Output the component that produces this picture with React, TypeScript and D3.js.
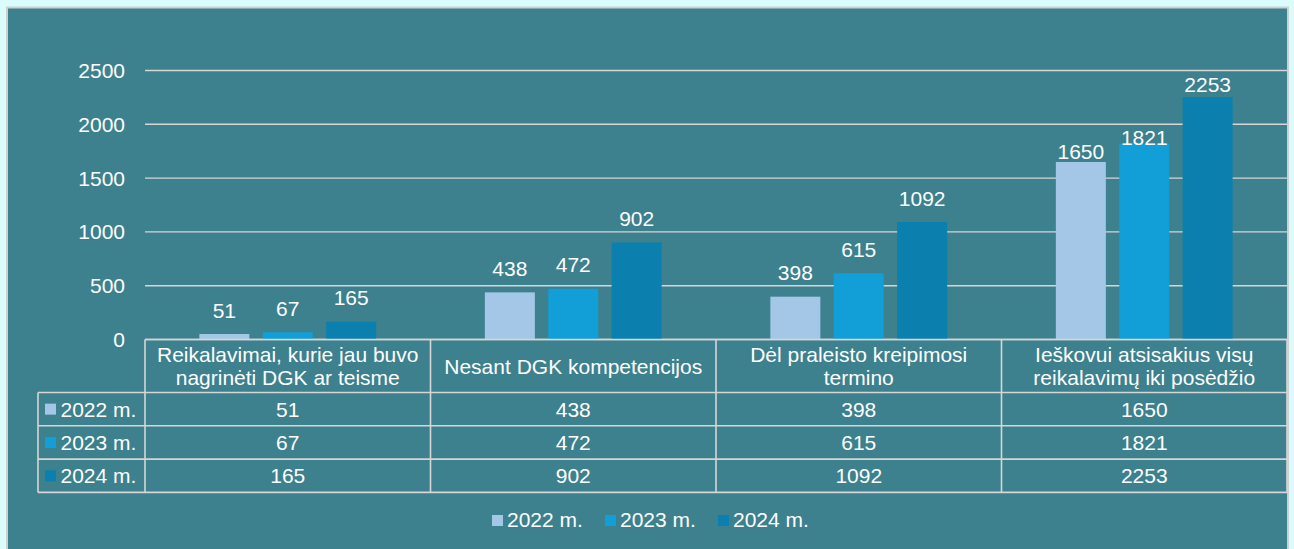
import React from "react";
import * as d3 from "d3";

const categories = [
  "Reikalavimai, kurie jau buvo\nnagrinėti DGK ar teisme",
  "Nesant DGK kompetencijos",
  "Dėl praleisto kreipimosi\ntermino",
  "Ieškovui atsisakius visų\nreikalavimų iki posėdžio",
];
const seriesNames = ["2022 m.", "2023 m.", "2024 m."];
const values2022 = [51, 438, 398, 1650];
const values2023 = [67, 472, 615, 1821];
const values2024 = [165, 902, 1092, 2253];
const yTicks = [0, 500, 1000, 1500, 2000, 2500];

const seriesValues = [values2022, values2023, values2024];
const colors = ["#a4c7e7", "#129fd7", "#0b80ae"];

const W = 1294;
const H = 549;
const BG = "#3c818d";
const LINE = "#d6d6d6";
const FONT = "'Liberation Sans', Arial, sans-serif";
const FS = 21;
const BASE = 7.5;

// label gap overrides (style) for last group, as in reference
const labelGap = (ci: number, si: number) => {
  if (ci === 3) return [3.3, -1.7, 5.3][si];
  return 16.5;
};

export default function App() {
  const plotL = 145;
  const plotR = 1287;
  const y = d3.scaleLinear().domain([0, 2500]).range([339.5, 70.5]);
  const x = d3.scaleBand<number>().domain(d3.range(categories.length)).range([plotL, plotR]).padding(0);
  const bw = 50;
  const step = 63.4;

  const tableTop = y(0);
  const headerBottom = 392.5;
  const rowH = 33.3;
  const tableLeft = 38;

  const legendX = [492, 605, 718];

  return (
    <svg width={W} height={H} style={{ position: "absolute", left: 0, top: 0 }} fontFamily={FONT}>
      <rect x={0} y={0} width={W} height={H} fill="#dbfcfd" />
      <rect x={7} y={7.5} width={1281} height={H} fill={BG} stroke="#cfcfcf" strokeWidth={2} />
      {/* gridlines */}
      {yTicks.map((t) => (
        <g key={t}>
          <line x1={plotL} x2={plotR} y1={y(t)} y2={y(t)} stroke={LINE} strokeWidth={1.4} />
          <text x={125} y={y(t) + BASE} textAnchor="end" fill="#fff" fontSize={FS}>
            {t}
          </text>
        </g>
      ))}
      {/* bars */}
      {categories.map((_, ci) => {
        const cx = (x(ci) as number) + x.bandwidth() / 2;
        return seriesValues.map((vals, si) => {
          const bx = cx + (si - 1) * step - bw / 2;
          const v = vals[ci];
          return (
            <g key={`${ci}-${si}`}>
              <rect x={bx} y={y(v)} width={bw} height={y(0) - y(v)} fill={colors[si]} />
              <text x={bx + bw / 2} y={y(v) - labelGap(ci, si)} textAnchor="middle" fill="#fff" fontSize={FS}>
                {v}
              </text>
            </g>
          );
        });
      })}
      {/* table */}
      <g stroke={LINE} strokeWidth={1.6} fill="none">
        <line x1={plotL} x2={plotR} y1={tableTop} y2={tableTop} />
        {[0, 1, 2, 3].map((i) => (
          <line key={i} x1={tableLeft} x2={plotR} y1={headerBottom + i * rowH} y2={headerBottom + i * rowH} />
        ))}
        <line x1={tableLeft} x2={tableLeft} y1={headerBottom} y2={headerBottom + 3 * rowH} />
        {categories.map((_, ci) => (
          <line key={ci} x1={x(ci) as number} x2={x(ci) as number} y1={tableTop} y2={headerBottom + 3 * rowH} />
        ))}
        <line x1={plotR} x2={plotR} y1={tableTop} y2={headerBottom + 3 * rowH} />
      </g>
      {categories.map((c, ci) => {
        const lines = c.split("\n");
        const cx = (x(ci) as number) + x.bandwidth() / 2;
        const mid = (tableTop + headerBottom) / 2;
        const lh = 23.3;
        return (
          <text key={ci} textAnchor="middle" fill="#fff" fontSize={FS}>
            {lines.map((l, li) => (
              <tspan key={li} x={cx} y={mid + BASE + (li - (lines.length - 1) / 2) * lh}>
                {l}
              </tspan>
            ))}
          </text>
        );
      })}
      {seriesNames.map((s, si) => {
        const ry = headerBottom + si * rowH + rowH / 2;
        return (
          <g key={s}>
            <rect x={45} y={ry - 5.5} width={11} height={11} fill={colors[si]} />
            <text x={60.5} y={ry + BASE} fill="#fff" fontSize={FS}>
              {s}
            </text>
            {categories.map((_, ci) => (
              <text
                key={ci}
                x={(x(ci) as number) + x.bandwidth() / 2}
                y={ry + BASE}
                textAnchor="middle"
                fill="#fff"
                fontSize={FS}
              >
                {seriesValues[si][ci]}
              </text>
            ))}
          </g>
        );
      })}
      {/* legend */}
      {seriesNames.map((s, si) => (
        <g key={s}>
          <rect x={legendX[si]} y={515} width={11} height={11} fill={colors[si]} />
          <text x={legendX[si] + 15} y={527} fill="#fff" fontSize={FS}>
            {s}
          </text>
        </g>
      ))}
    </svg>
  );
}
